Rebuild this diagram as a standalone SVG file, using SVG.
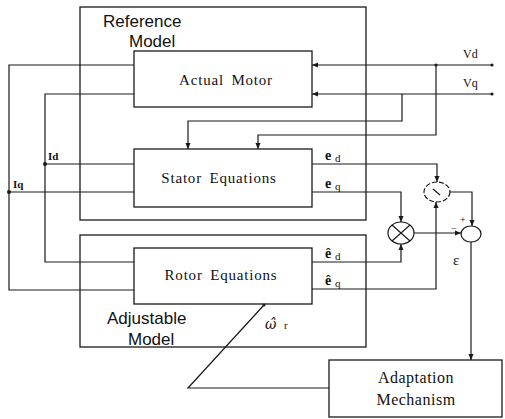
<svg xmlns="http://www.w3.org/2000/svg" width="505" height="419" viewBox="0 0 505 419">
<defs>
<style>
.ln{fill:none;stroke:#1a1a1a;stroke-width:1.2}
.bx{fill:none;stroke:#1a1a1a;stroke-width:1.3}
.sf{font-family:"Liberation Serif",serif;fill:#111}
.ss{font-family:"Liberation Sans",sans-serif;fill:#111}
.blk{font-size:15px;letter-spacing:0.8px;word-spacing:3px}
.dot{fill:#1a1a1a}
</style>
<marker id="ar" viewBox="0 0 8 8" refX="7" refY="4" markerWidth="6" markerHeight="6" orient="auto">
<path d="M0,1 L7,4 L0,7 Z" fill="#1a1a1a"/>
</marker>
</defs>
<rect width="505" height="419" fill="#fff"/>

<g id="reference-model">
<rect class="bx" x="80" y="7" width="286" height="213"/>
<text class="ss" x="103" y="27" font-size="17">Reference</text>
<text class="ss" x="129" y="47" font-size="17">Model</text>
</g>
<g id="adjustable-model">
<rect class="bx" x="80" y="235" width="286" height="112"/>
<text class="ss" x="107" y="324" font-size="17">Adjustable</text>
<text class="ss" x="128" y="345" font-size="17">Model</text>
</g>
<g id="actual-motor">
<rect class="bx" x="134" y="51" width="178" height="56" fill="#fff"/>
<text class="sf blk" x="226" y="85" text-anchor="middle">Actual Motor</text>
</g>
<g id="stator-equations">
<rect class="bx" x="134" y="149" width="178" height="58" fill="#fff"/>
<text class="sf blk" x="219" y="183" text-anchor="middle">Stator Equations</text>
</g>
<g id="rotor-equations">
<rect class="bx" x="134" y="248" width="178" height="56" fill="#fff"/>
<text class="sf blk" x="221" y="280" text-anchor="middle">Rotor Equations</text>
</g>
<g id="adaptation-mechanism">
<rect class="bx" x="329" y="360" width="173" height="57" fill="#fff"/>
<text class="sf" x="416" y="383" font-size="16" letter-spacing="0.5" text-anchor="middle">Adaptation</text>
<text class="sf" x="416" y="405" font-size="16" letter-spacing="0.5" text-anchor="middle">Mechanism</text>
</g>
<g id="sum-d">
<ellipse class="ln" cx="437" cy="192" rx="13" ry="10" stroke-dasharray="5,2"/>
<path class="ln" d="M433,189 L440,195" stroke-width="0.8"/>
</g>
<g id="sum-q">
<ellipse class="ln" cx="401" cy="233" rx="13" ry="11"/>
<path class="ln" d="M392,225 L410,241 M410,225 L392,241" stroke-width="0.8"/>
</g>
<g id="sum-error">
<ellipse class="ln" cx="471" cy="234" rx="10" ry="8"/>
</g>

<g id="connectors">
<path class="ln" d="M134,65 H9 V290 H134"/>
<path class="ln" d="M9,192 H134"/>
<path class="ln" d="M134,94 H45 V262 H134"/>
<path class="ln" d="M45,164 H134"/>
<circle class="dot" cx="9" cy="192" r="2"/>
<circle class="dot" cx="45" cy="164" r="2"/>
<path class="ln" d="M492,65 H312" marker-end="url(#ar)"/>
<path class="ln" d="M492,94 H312" marker-end="url(#ar)"/>
<circle class="dot" cx="492" cy="65" r="1.6"/>
<circle class="dot" cx="492" cy="94" r="1.6"/>
<circle class="dot" cx="436" cy="65" r="1.6"/>
<path class="ln" d="M436,65 V135 H258 V149" marker-end="url(#ar)"/>
<path class="ln" d="M402,94 V121 H188 V149" marker-end="url(#ar)"/>
<path class="ln" d="M312,164 H437 V182" marker-end="url(#ar)"/>
<path class="ln" d="M312,192 H401 V222" marker-end="url(#ar)"/>
<path class="ln" d="M312,262 H401 V244" marker-end="url(#ar)"/>
<path class="ln" d="M312,289 H436 V202" marker-end="url(#ar)"/>
<path class="ln" d="M450,192 H472 V226" marker-end="url(#ar)"/>
<path class="ln" d="M414,233 H461" marker-end="url(#ar)"/>
<path class="ln" d="M471,242 V360" marker-end="url(#ar)"/>
<path class="ln" d="M329,388 H188 L264,305"/>
<circle class="dot" cx="264" cy="305" r="1.5"/>
</g>

<g id="labels">
<text class="sf" x="463" y="58" font-size="12">Vd</text>
<text class="sf" x="463" y="87" font-size="12">Vq</text>
<text class="sf" x="48" y="160" font-size="11" font-weight="bold">Id</text>
<text class="sf" x="13" y="188" font-size="11" font-weight="bold">Iq</text>
<text class="sf" x="325" y="160" font-size="14" font-weight="bold">e</text>
<text class="sf" x="335" y="162" font-size="11">d</text>
<text class="sf" x="325" y="188" font-size="14" font-weight="bold">e</text>
<text class="sf" x="335" y="190" font-size="11">q</text>
<text class="sf" x="325" y="258" font-size="14" font-weight="bold">ê</text>
<text class="sf" x="335" y="260" font-size="11">d</text>
<text class="sf" x="325" y="285" font-size="14" font-weight="bold">ê</text>
<text class="sf" x="335" y="287" font-size="11">q</text>
<text x="265" y="329" font-size="14" font-style="italic" font-family="'DejaVu Serif',serif" fill="#111">ω̂</text>
<text class="sf" x="284" y="329" font-size="11">r</text>
<text class="sf" x="453" y="265" font-size="15">ε</text>
<text class="sf" x="460" y="223" font-size="10">+</text>
<text class="sf" x="451" y="232" font-size="10">−</text>
</g>
</svg>
